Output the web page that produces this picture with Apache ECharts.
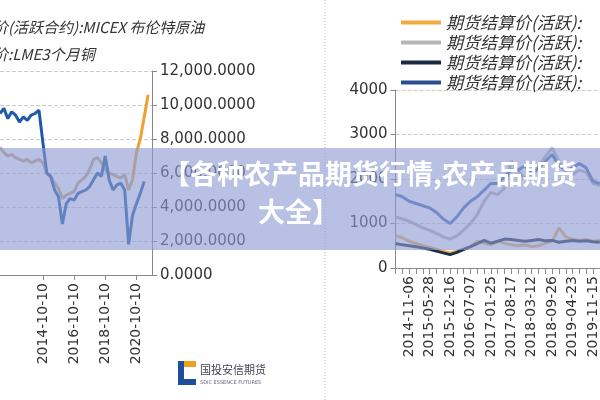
<!DOCTYPE html>
<html>
<head>
<meta charset="utf-8">
<script src="https://cdn.jsdelivr.net/npm/echarts@6/dist/echarts.min.js"></script>
<style>html,body{margin:0;padding:0;background:#fff}#main{width:600px;height:400px}</style>
</head>
<body>
<div id="main"></div>
<script>
// 左图：季度数据
var leftDates = ['2012-01-10','2012-04-10','2012-07-10','2012-10-10','2013-01-10','2013-04-10','2013-07-10','2013-10-10',
  '2014-01-10','2014-04-10','2014-07-10','2014-10-10','2015-01-10','2015-04-10','2015-07-10','2015-10-10',
  '2016-01-10','2016-04-10','2016-07-10','2016-10-10','2017-01-10','2017-04-10','2017-07-10','2017-10-10',
  '2018-01-10','2018-04-10','2018-07-10','2018-10-10','2019-01-10','2019-04-10','2019-07-10','2019-10-10',
  '2020-01-10','2020-04-10','2020-07-10','2020-10-10','2021-01-10','2021-04-10','2021-07-10','2021-10-10'];
var leftBlue = [9500,9800,9200,9600,9400,9000,9300,9100,9400,9500,9700,7800,6000,5800,5000,4600,
  3000,4200,4500,4400,4800,4900,5000,5200,5600,6000,5800,7000,5600,5000,5300,5400,5000,1800,3500,4200,4800,5500,null,null];
var leftTan = [7500,7200,7000,7100,6900,6800,6700,6800,6600,6700,6800,6600,6000,5800,5400,5100,
  4500,4700,4800,4900,5400,5600,5800,6200,6800,6900,6600,6200,6000,5900,5800,5700,5900,5000,5600,null,null,null,null,null];
var leftOrange = [null,null,null,null,null,null,null,null,null,null,null,null,null,null,null,null,
  null,null,null,null,null,null,null,null,null,null,null,null,null,null,null,null,null,null,5600,7200,8000,9300,10600,null];

// 右图
var rightDates = ['2014-06-12','2014-08-25','2014-11-06','2015-01-16','2015-03-27','2015-05-28','2015-08-05','2015-10-13',
  '2015-12-16','2016-03-01','2016-05-03','2016-07-07','2016-09-14','2016-11-22','2017-01-25','2017-04-06','2017-06-12',
  '2017-08-17','2017-10-30','2018-01-04','2018-03-12','2018-05-21','2018-07-25','2018-09-26','2018-12-05','2019-02-19',
  '2019-04-23','2019-07-01','2019-09-06','2019-11-15','2020-01-22'];
var rOrange = [720,680,600,550,500,460,420,380,340,380,420,480,600,560,520,600,560,520,500,520,480,500,560,600,900,700,650,620,640,600,620];
var rGray = [1150,1100,1050,980,900,850,780,700,650,720,850,1000,1200,1500,1700,1650,1800,2400,2200,2000,2200,2300,2500,2700,2400,2150,2100,2200,2150,1900,1850];
var rDark = [550,520,500,480,450,420,380,340,300,350,420,480,550,620,560,600,650,640,620,600,620,640,610,620,580,600,620,600,610,590,580];
var rBlue = [1650,1600,1500,1450,1400,1350,1250,1100,1000,1150,1350,1500,1600,1750,1900,1900,2050,2200,2200,2300,2100,2250,2400,2550,2300,2200,2250,2350,2250,1950,1900];
var legendNames = ['期货结算价(活跃):', '期货结算价(活跃): ', '期货结算价(活跃):  ', '期货结算价(活跃):   '];

var myChart = echarts.init(document.getElementById('main'));
var leftLabelIdx = [11, 19, 27, 35];
var axisFont = {color: '#333', fontSize: 14, fontFamily: 'DejaVu Sans'};

var option = {
    backgroundColor: '#fff',
    animation: false,
    legend: {
        orient: 'vertical', left: 396, top: 9, itemWidth: 40, itemHeight: 4, itemGap: 3,
        icon: 'rect',
        textStyle: {color: '#333', fontSize: 17, fontStyle: 'italic', fontFamily: 'Noto Sans CJK SC'},
        data: legendNames
    },
    grid: [
        {left: -26.6, top: 71, width: 178.6, height: 204},
        {left: 395.6, top: 90, width: 216.6, height: 178}
    ],
    xAxis: [{
        type: 'category', gridIndex: 0, data: leftDates, boundaryGap: false,
        axisLine: {lineStyle: {color: '#888'}},
        axisTick: {interval: function (i) { return leftLabelIdx.indexOf(i) >= 0; }, lineStyle: {color: '#888'}},
        axisLabel: Object.assign({rotate: 90, interval: function (i) { return leftLabelIdx.indexOf(i) >= 0; }}, axisFont)
    }, {
        type: 'category', gridIndex: 1, data: rightDates, boundaryGap: false,
        axisLine: {lineStyle: {color: '#888'}},
        axisTick: {interval: 0, length: 6, lineStyle: {color: '#888'}},
        axisLabel: Object.assign({rotate: 90, interval: function (i) { return (i - 2) % 3 === 0; }}, axisFont)
    }],
    yAxis: [{
        type: 'value', gridIndex: 0, position: 'right', min: 0, max: 12000, interval: 2000,
        axisLine: {show: true, lineStyle: {color: '#888'}},
        axisTick: {show: true, lineStyle: {color: '#888'}},
        splitLine: {lineStyle: {type: 'dashed', color: '#ccc'}},
        axisLabel: Object.assign({}, axisFont, {fontSize: 15, formatter: function (v) {
            return v.toLocaleString('en-US', {minimumFractionDigits: 4, maximumFractionDigits: 4});
        }})
    }, {
        type: 'value', gridIndex: 1, min: 0, max: 4000, interval: 1000,
        axisLine: {show: true, lineStyle: {color: '#888'}},
        axisTick: {show: true, lineStyle: {color: '#888'}},
        splitLine: {lineStyle: {type: 'dashed', color: '#ccc'}},
        axisLabel: Object.assign({}, axisFont, {fontSize: 15, formatter: function (v) { return String(v); }})
    }],
    series: [
        {type: 'line', xAxisIndex: 0, yAxisIndex: 0, data: leftTan, symbol: 'none', lineStyle: {color: '#c9a57e', width: 3}},
        {type: 'line', xAxisIndex: 0, yAxisIndex: 0, data: leftOrange, symbol: 'none', lineStyle: {color: '#f0a030', width: 3}},
        {type: 'line', xAxisIndex: 0, yAxisIndex: 0, data: leftBlue, symbol: 'none', lineStyle: {color: '#1f5aa8', width: 3}},
        {name: legendNames[0], type: 'line', xAxisIndex: 1, yAxisIndex: 1, data: rOrange, symbol: 'none', itemStyle: {color: '#f0ac3c'}, lineStyle: {color: '#e8b060', width: 3}},
        {name: legendNames[1], type: 'line', xAxisIndex: 1, yAxisIndex: 1, data: rGray, symbol: 'none', itemStyle: {color: '#b5b5b5'}, lineStyle: {color: '#b8b4b8', width: 3}},
        {name: legendNames[2], type: 'line', xAxisIndex: 1, yAxisIndex: 1, data: rDark, symbol: 'none', itemStyle: {color: '#1a2a40'}, lineStyle: {color: '#1f2f4a', width: 3}},
        {name: legendNames[3], type: 'line', xAxisIndex: 1, yAxisIndex: 1, data: rBlue, symbol: 'none', itemStyle: {color: '#2b4f8e'}, lineStyle: {color: '#4a72b8', width: 3}}
    ],
    graphic: [
        {type: 'text', left: -7, top: 20, style: {text: '价(活跃合约):MICEX 布伦特原油', fill: '#333', font: 'italic 15px "Noto Sans CJK SC"'}},
        {type: 'text', left: -7, top: 47, style: {text: '价:LME3个月铜', fill: '#333', font: 'italic 15px "Noto Sans CJK SC"'}},
        {type: 'line', shape: {x1: 325, y1: 0, x2: 325, y2: 400}, style: {stroke: '#bbb', lineDash: [1, 2]}},
        {type: 'rect', shape: {x: 178, y: 361, width: 6, height: 24}, style: {fill: '#1f4e9c'}},
        {type: 'rect', shape: {x: 178, y: 379, width: 18, height: 6}, style: {fill: '#1f4e9c'}},
        {type: 'rect', shape: {x: 184, y: 361, width: 12, height: 6}, style: {fill: '#f0a020'}},
        {type: 'text', left: 200, top: 364, style: {text: '国投安信期货', fill: '#445', font: '11px "Noto Sans CJK SC"'}},
        {type: 'text', left: 200, top: 380, style: {text: 'SDIC ESSENCE FUTURES', fill: '#667', font: '5px "DejaVu Sans"'}},
        {type: 'rect', z: 100, shape: {x: 0, y: 148, width: 600, height: 102}, style: {fill: 'rgba(140,155,210,0.62)'}},
        {type: 'text', z: 101, left: 163, top: 160, style: {text: '【各种农产品期货行情,农产品期货', fill: '#fff', font: 'bold 27px "Noto Sans CJK SC"'}},
        {type: 'text', z: 101, left: 258, top: 198, style: {text: '大全】', fill: '#fff', font: 'bold 27px "Noto Sans CJK SC"'}}
    ]
};
myChart.setOption(option);
</script>
</body>
</html>
